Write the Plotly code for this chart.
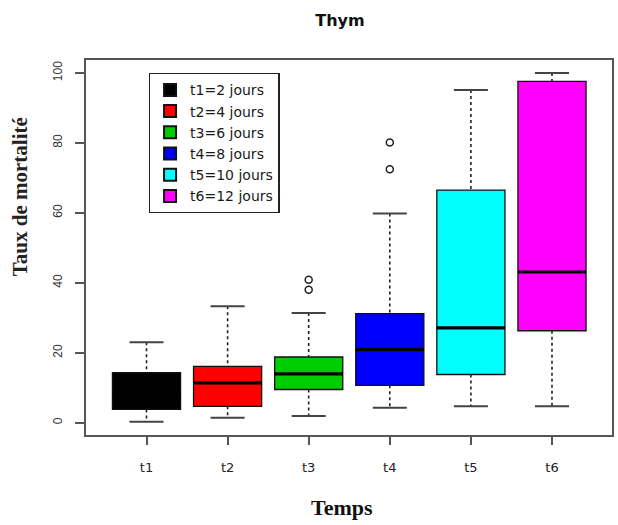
import plotly.graph_objects as go

# ---- data ----
categories = ["t1", "t2", "t3", "t4", "t5", "t6"]
legend_labels = ["t1=2 jours", "t2=4 jours", "t3=6 jours", "t4=8 jours", "t5=10 jours", "t6=12 jours"]
lower_whisker = [0.3, 1.4, 1.9, 4.3, 4.7, 4.7]
q1 = [3.8, 4.7, 9.5, 10.7, 13.8, 26.3]
median = [8.0, 11.4, 14.0, 20.9, 27.1, 43.1]
q3 = [14.3, 16.1, 18.8, 31.2, 66.5, 97.6]
upper_whisker = [23.0, 33.3, 31.4, 59.8, 95.1, 100.0]
outliers = [[], [], [38.0, 40.9], [72.5, 80.1], [], []]
y_ticks = [0, 20, 40, 60, 80, 100]

# ---- styles ----
colors = ["#000000", "#FF0000", "#00CD00", "#0000FF", "#00FFFF", "#FF00FF"]
BOX_W = 0.84
CAP_W = 0.42

fig = go.Figure()

pos = list(range(len(categories)))

# whiskers (dotted) and caps
for i, p in enumerate(pos):
    fig.add_trace(go.Scatter(
        x=[p, p, None, p, p],
        y=[upper_whisker[i], q3[i], None, q1[i], lower_whisker[i]],
        mode="lines", line=dict(color="#222222", width=1.6, dash="dot"),
        showlegend=False, hoverinfo="skip"))
    fig.add_trace(go.Scatter(
        x=[p - CAP_W / 2, p + CAP_W / 2, None, p - CAP_W / 2, p + CAP_W / 2],
        y=[upper_whisker[i], upper_whisker[i], None, lower_whisker[i], lower_whisker[i]],
        mode="lines", line=dict(color="#444444", width=2),
        showlegend=False, hoverinfo="skip"))

# boxes
for i, p in enumerate(pos):
    fig.add_trace(go.Box(
        x=[p], q1=[q1[i]], median=[median[i]], q3=[q3[i]],
        lowerfence=[q1[i]], upperfence=[q3[i]],
        width=BOX_W, whiskerwidth=0,
        fillcolor=colors[i], line=dict(color="#111111", width=1.3),
        name=legend_labels[i], boxpoints=False, showlegend=True))

# thick medians
for i, p in enumerate(pos):
    fig.add_trace(go.Scatter(
        x=[p - BOX_W / 2, p + BOX_W / 2], y=[median[i], median[i]],
        mode="lines", line=dict(color="#000000", width=3.2),
        showlegend=False, hoverinfo="skip"))

# outliers
for i, p in enumerate(pos):
    if outliers[i]:
        fig.add_trace(go.Scatter(
            x=[p] * len(outliers[i]), y=outliers[i], mode="markers",
            marker=dict(symbol="circle-open", size=7, color="#222222", line=dict(width=1.5)),
            showlegend=False, hoverinfo="skip"))

fig.update_layout(
    width=618, height=525,
    margin=dict(l=86, r=4, t=60, b=90),
    paper_bgcolor="white", plot_bgcolor="white",
    title=dict(text="<b>Thym</b>", x=340 / 618, xanchor="center", xref="container",
               y=1 - 20 / 525, yanchor="middle", yref="container",
               font=dict(family="DejaVu Sans", size=16, color="#111111")),
    legend=dict(x=(149 - 86) / 528, y=(435 - 73) / 375, xanchor="left", yanchor="top",
                bordercolor="#222222", borderwidth=1.3, bgcolor="white",
                font=dict(family="DejaVu Sans", size=14, color="#1a1a1a"),
                itemsizing="constant", tracegroupgap=0,
                entrywidth=108, entrywidthmode="pixels"),
    showlegend=True,
    xaxis=dict(range=[-0.746, 5.74], tickmode="array", tickvals=pos, ticktext=categories,
               ticks="outside", ticklen=8, tickwidth=1.5, tickcolor="#555555",
               showline=True, mirror=True, linecolor="#555555", linewidth=1.5,
               showgrid=False, zeroline=False, ticklabelstandoff=12,
               tickfont=dict(family="DejaVu Sans", size=13, color="#222222")),
    yaxis=dict(range=[-3.5, 103.7], tickmode="array", tickvals=y_ticks,
               ticks="outside", ticklen=9, tickwidth=1.5, tickcolor="#555555",
               showline=True, mirror=True, linecolor="#555555", linewidth=1.5,
               showgrid=False, zeroline=False, tickangle=-90, ticklabelstandoff=8,
               tickfont=dict(family="Liberation Sans", size=12, color="#333333")),
    annotations=[
        dict(text="<b>Taux de mortalité</b>", xref="paper", yref="paper",
             x=(20 - 86) / 528, y=(435 - 197) / 375, textangle=-90, showarrow=False,
             xanchor="center", yanchor="middle",
             font=dict(family="Liberation Serif", size=21, color="#222222")),
        dict(text="<b>Temps</b>", xref="paper", yref="paper",
             x=(343 - 86) / 528, y=(435 - 508) / 375, showarrow=False,
             xanchor="center", yanchor="middle",
             font=dict(family="Liberation Serif", size=22, color="#111111")),
    ],
)

fig.write_html("out.html", config={"displayModeBar": False})

# remove the default 8px body margin so the figure sits at the window's top-left
with open("out.html", "r", encoding="utf-8") as f:
    html = f.read()
html = html.replace("<head>", "<head><style>html,body{margin:0;padding:0;overflow:hidden;}</style>", 1)
with open("out.html", "w", encoding="utf-8") as f:
    f.write(html)
